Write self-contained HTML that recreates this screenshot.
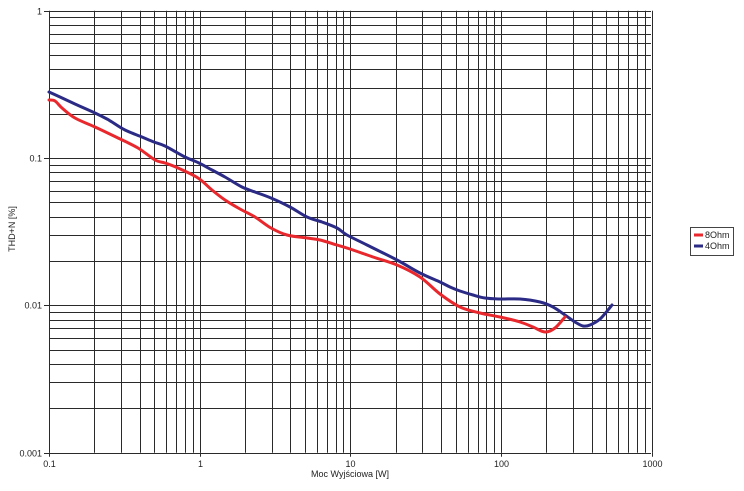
<!DOCTYPE html>
<html><head><meta charset="utf-8"><style>
html,body{margin:0;padding:0;background:#fff;}
svg{display:block;}
text{font-family:"Liberation Sans",Arial,sans-serif;fill:#222;}
</style></head><body>
<svg id="c" width="744" height="491" viewBox="0 0 744 491" xmlns="http://www.w3.org/2000/svg">
<rect width="744" height="491" fill="#fff"/>
<g id="grid" stroke="#2a2a2a" stroke-width="1" fill="none"></g>
<g id="lbl" font-size="9"></g>
<path id="pb" fill="none" stroke="#2b2b86" stroke-width="3" stroke-linejoin="round" stroke-linecap="round" d=""/>
<path id="pr" fill="none" stroke="#e8282c" stroke-width="3" stroke-linejoin="round" stroke-linecap="round" d=""/>
<text x="350" y="477" font-size="9" text-anchor="middle">Moc Wyjściowa [W]</text>
<text x="0" y="0" font-size="9" text-anchor="middle" transform="translate(15,229) rotate(-90)">THD+N [%]</text>
<rect x="690.5" y="227.5" width="43" height="28" fill="#fff" stroke="#444" stroke-width="1"/>
<line x1="694" y1="235" x2="703" y2="235" stroke="#e8282c" stroke-width="3"/>
<line x1="694" y1="246" x2="703" y2="246" stroke="#2b2b86" stroke-width="3"/>
<text x="705" y="238" font-size="9">8Ohm</text>
<text x="705" y="249" font-size="9">4Ohm</text>
</svg>
<script>
(function(){
var NS="http://www.w3.org/2000/svg";
var g=document.getElementById("grid"),l=document.getElementById("lbl");
var X0=49,XD=150.67,Y0=10.7,YD=147.33,YB=452.7,XR=651;
function X(v){return X0+XD*(Math.log10(v)+1);}
function Y(v){return Y0-YD*Math.log10(v);}
function ln(x1,y1,x2,y2){var e=document.createElementNS(NS,"line");e.setAttribute("x1",x1);e.setAttribute("y1",y1);e.setAttribute("x2",x2);e.setAttribute("y2",y2);g.appendChild(e);}
function tx(x,y,s,a){var e=document.createElementNS(NS,"text");e.setAttribute("x",x);e.setAttribute("y",y);e.setAttribute("text-anchor",a);e.textContent=s;l.appendChild(e);}
var n,k,x,y;
for(n=-1;n<3;n++){for(k=1;k<10;k++){x=Math.round(X(k*Math.pow(10,n)))+0.5;ln(x,Y0,x,YB);}}
x=Math.round(X(1000))+0.5;ln(x,Y0,x,YB);
for(n=-3;n<0;n++){for(k=1;k<10;k++){y=Math.round(Y(k*Math.pow(10,n)))+0.5;ln(X0,y,XR,y);}}
y=Math.round(Y(1))+0.5;ln(X0,y,XR,y);
var xl=[[0.1,"0.1"],[1,"1"],[10,"10"],[100,"100"],[1000,"1000"]];
xl.forEach(function(p){var x=Math.round(X(p[0]))+0.5;ln(x,YB,x,YB+4);tx(x,467,p[1],"middle");});
var yl=[[1,"1"],[0.1,"0.1"],[0.01,"0.01"],[0.001,"0.001"]];
yl.forEach(function(p){var y=Math.round(Y(p[0]))+0.5;ln(X0-5,y,X0,y);tx(42,y+3,p[1],"end");});
function smooth(pts){
  var d="M"+pts[0][0]+","+pts[0][1];
  for(var i=0;i<pts.length-1;i++){
    var p0=pts[i-1]||pts[i],p1=pts[i],p2=pts[i+1],p3=pts[i+2]||pts[i+1];
    var c1x=p1[0]+(p2[0]-p0[0])/6,c1y=p1[1]+(p2[1]-p0[1])/6;
    var c2x=p2[0]-(p3[0]-p1[0])/6,c2y=p2[1]-(p3[1]-p1[1])/6;
    d+=" C"+c1x.toFixed(1)+","+c1y.toFixed(1)+" "+c2x.toFixed(1)+","+c2y.toFixed(1)+" "+p2[0]+","+p2[1];
  }
  return d;
}
var blue=[[49,92],[60,97],[75,104],[95,113],[107,119],[112,122],[125,130],[142,137],[154,142],[165,146],[185,157],[199,163],[212,170],[225,177],[242,187],[255,192],[271,198],[290,207],[307,217],[322,222],[337,228],[347,235],[367,245],[397,260],[420,273],[440,282],[450,287],[460,291],[473,295],[485,298],[500,299],[520,299],[540,302],[553,307],[565,315],[575,322],[583,326],[590,325],[600,319],[612,305]];
var red=[[49,100],[55,101],[62,108],[75,118],[95,127],[118,138],[138,148],[155,160],[165,163],[178,168],[198,178],[212,190],[225,200],[240,209],[255,217],[271,228],[287,235],[307,238],[320,240],[337,245],[350,249],[373,257],[397,265],[420,277],[440,294],[460,307],[480,313],[500,317],[520,322],[533,327],[545,332],[555,328],[565,317]];
document.getElementById("pb").setAttribute("d",smooth(blue));
document.getElementById("pr").setAttribute("d",smooth(red));
})();
</script>
</body></html>
